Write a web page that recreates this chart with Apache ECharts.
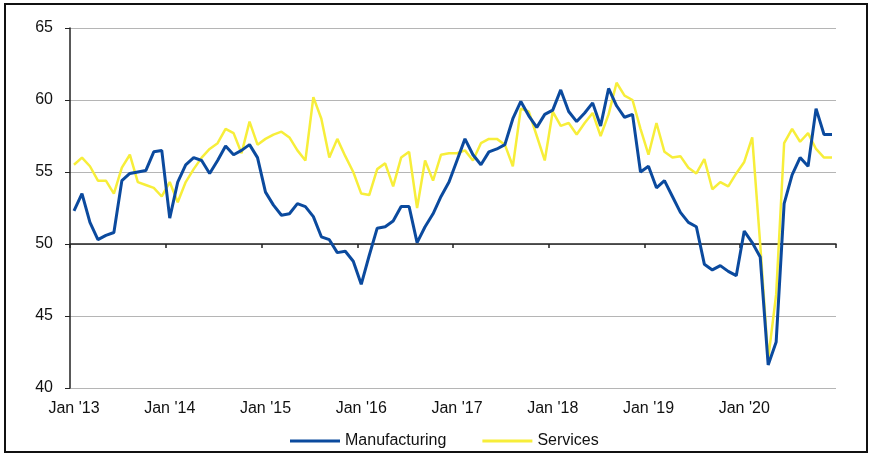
<!DOCTYPE html>
<html>
<head>
<meta charset="utf-8">
<script src="https://cdn.jsdelivr.net/npm/echarts@6/dist/echarts.min.js"></script>
<style>
html,body{margin:0;padding:0;background:#fff;}
#chart{width:873px;height:456px;}
</style>
</head>
<body>
<div id="chart"></div>
<script>
// Years covered (monthly, Jan 2013 - Dec 2020)
var years = ["13", "14", "15", "16", "17", "18", "19", "20"];
var monthNames = ["Jan","Feb","Mar","Apr","May","Jun","Jul","Aug","Sep","Oct","Nov","Dec"];

// Manufacturing index (monthly)
var manufacturing = [
  52.3, 53.5, 51.5, 50.3, 50.6, 50.8, 54.4, 54.9, 55.0, 55.1, 56.4, 56.5,
  51.8, 54.3, 55.5, 56.0, 55.8, 54.9, 55.8, 56.8, 56.2, 56.5, 56.9, 56.0,
  53.6, 52.7, 52.0, 52.1, 52.8, 52.6, 51.9, 50.5, 50.3, 49.4, 49.5, 48.8,
  47.2, 49.2, 51.1, 51.2, 51.6, 52.6, 52.6, 50.1, 51.2, 52.1, 53.3, 54.3,
  55.8, 57.3, 56.2, 55.5, 56.4, 56.6, 56.9, 58.7, 59.9, 58.9, 58.1, 59.0,
  59.3, 60.7, 59.2, 58.5, 59.1, 59.8, 58.2, 60.8, 59.6, 58.8, 59.0, 55.0,
  55.4, 53.9, 54.4, 53.3, 52.2, 51.5, 51.2, 48.6, 48.2, 48.5, 48.1, 47.8,
  50.9, 50.1, 49.1, 41.6, 43.2, 52.8, 54.8, 56.0, 55.4, 59.4, 57.6, 57.6
];

// Services index (monthly)
var services = [
  55.5, 56.0, 55.4, 54.4, 54.4, 53.5, 55.3, 56.2, 54.3, 54.1, 53.9, 53.3,
  54.3, 52.9, 54.3, 55.2, 56.0, 56.6, 57.0, 58.0, 57.7, 56.3, 58.5, 56.9,
  57.3, 57.6, 57.8, 57.4, 56.5, 55.8, 60.2, 58.7, 56.0, 57.3, 56.1, 55.0,
  53.5, 53.4, 55.2, 55.6, 54.0, 56.0, 56.4, 52.5, 55.8, 54.4, 56.2, 56.3,
  56.3, 56.5, 55.8, 57.0, 57.3, 57.3, 56.9, 55.4, 59.4, 59.2, 57.5, 55.8,
  59.2, 58.2, 58.4, 57.6, 58.4, 59.1, 57.5, 59.0, 61.2, 60.3, 60.0, 58.0,
  56.2, 58.4, 56.4, 56.0, 56.1, 55.3, 54.9, 55.9, 53.8, 54.3, 54.0, 54.9,
  55.7, 57.4, 50.0, 42.0, 46.5, 57.0, 58.0, 57.1, 57.7, 56.6, 56.0, 56.0
];

var yTicks = { min: 40, max: 65, interval: 5 };

var categories = [];
years.forEach(function (y) {
  monthNames.forEach(function (m) { categories.push(m + " '" + y); });
});

var chart = echarts.init(document.getElementById('chart'));
var font = 'Arial, "Liberation Sans", sans-serif';

chart.setOption({
  animation: false,
  backgroundColor: '#ffffff',
  grid: { left: 70, right: 37, top: 28, bottom: 68, containLabel: false },
  legend: {
    data: ['Manufacturing', 'Services'],
    left: 285,
    top: 428,
    icon: 'rect',
    itemWidth: 50,
    itemHeight: 3,
    itemGap: 36,
    textStyle: { fontFamily: font, fontSize: 16, color: '#111' }
  },
  xAxis: [
    {
      type: 'category',
      data: categories,
      boundaryGap: true,
      axisLine: { show: false },
      axisTick: { show: false },
      axisLabel: {
        interval: 11,
        margin: 13,
        fontFamily: font,
        fontSize: 16,
        color: '#111'
      },
      splitLine: { show: false }
    },
    {
      type: 'category',
      data: categories,
      position: 'bottom',
      offset: -144,
      boundaryGap: true,
      axisLine: { show: true, lineStyle: { color: '#222', width: 1.5 } },
      axisTick: {
        show: true,
        length: 4,
        interval: function (idx) { return idx % 12 === 0; },
        lineStyle: { color: '#222', width: 1.5 }
      },
      axisLabel: { show: false },
      splitLine: { show: false }
    }
  ],
  yAxis: {
    type: 'value',
    min: yTicks.min,
    max: yTicks.max,
    interval: yTicks.interval,
    axisLine: { show: true, lineStyle: { color: '#222', width: 1.5 } },
    axisTick: { show: true, length: 5, lineStyle: { color: '#222' } },
    axisLabel: { margin: 17, fontFamily: font, fontSize: 16, color: '#111' },
    splitLine: { show: true, lineStyle: { color: '#b5b5b5', width: 1 } }
  },
  series: [
    {
      name: 'Manufacturing',
      type: 'line',
      data: manufacturing,
      symbol: 'none',
      z: 4,
      lineStyle: { color: '#0b4a9e', width: 3 },
      itemStyle: { color: '#0b4a9e' }
    },
    {
      name: 'Services',
      type: 'line',
      data: services,
      symbol: 'none',
      z: 3,
      lineStyle: { color: '#f7ee3a', width: 2.5 },
      itemStyle: { color: '#f7ee3a' }
    }
  ],
  graphic: [
    {
      type: 'rect',
      shape: { x: 5, y: 4, width: 862, height: 448 },
      style: { fill: null, stroke: '#111', lineWidth: 2 },
      silent: true
    }
  ]
});
</script>
</body>
</html>
